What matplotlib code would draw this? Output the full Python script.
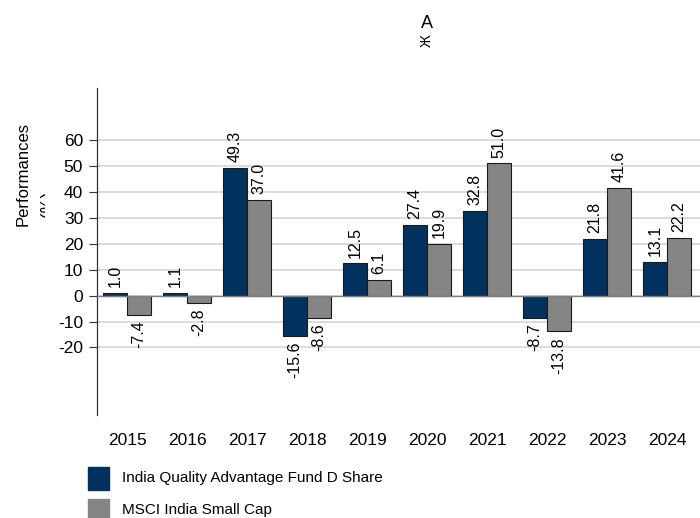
import numpy as np
import matplotlib
matplotlib.use("Agg")
import matplotlib.pyplot as plt
from matplotlib.transforms import Bbox

years = ['2015', '2016', '2017', '2018', '2019', '2020', '2021', '2022', '2023', '2024']
fund = [1.0, 1.1, 49.3, -15.6, 12.5, 27.4, 32.8, -8.7, 21.8, 13.1]
index = [-7.4, -2.8, 37.0, -8.6, 6.1, 19.9, 51.0, -13.8, 41.6, 22.2]
series_names = ['India Quality Advantage Fund D Share', 'MSCI India Small Cap']
yticks = [-20, -10, 0, 10, 20, 30, 40, 50, 60]

blue = '#00325f'
grey = '#858585'

plt.rcParams['font.family'] = ['Liberation Sans', 'DejaVu Sans']

fig = plt.figure(figsize=(7, 5.18), dpi=100)
ax = fig.add_axes([0.1386, 0.199, 0.8614, 0.631])

x = np.arange(len(years))
w = 0.4
b1 = ax.bar(x - w / 2, fund, w, color=blue, edgecolor='#1a1a1a', linewidth=0.8, zorder=3)
b2 = ax.bar(x + w / 2, index, w, color=grey, edgecolor='#1a1a1a', linewidth=0.8, zorder=3)

# valeurs au-dessus / en dessous des barres
for bars, vals in ((b1, fund), (b2, index)):
    for r, v in zip(bars, vals):
        cx = r.get_x() + r.get_width() / 2
        if v >= 0:
            ax.annotate(f'{v:.1f}', (cx, v), xytext=(0, 4), textcoords='offset points',
                        rotation=90, ha='center', va='bottom', fontsize=11.5)
        else:
            ax.annotate(f'{v:.1f}', (cx, v), xytext=(0, -4), textcoords='offset points',
                        rotation=90, ha='center', va='top', fontsize=11.5)

for t in yticks:
    ax.axhline(t, color='#d9d9d9', linewidth=1.3, zorder=1)
ax.axhline(0, color='#7f7f7f', linewidth=1.0, zorder=4)

ax.set_xlim(-0.5, 9.55)
ax.set_ylim(-46, 80)
ax.set_yticks(yticks)
ax.set_yticklabels([str(t) for t in yticks], fontsize=12.5)
ax.set_xticks(x)
ax.set_xticklabels(years, fontsize=12.5)
ax.tick_params(axis='x', length=0, pad=13)
ax.tick_params(axis='y', length=6, width=0.8, color='#333333', pad=4)
for s in ('top', 'right', 'bottom'):
    ax.spines[s].set_visible(False)
ax.spines['left'].set_color('#333333')
ax.spines['left'].set_linewidth(0.9)

fig.text(0.033, 0.664, 'Performances', rotation=90, ha='center', va='center', fontsize=12)
# second line of the label, cut off like in the original
pct = fig.text(0.068, 0.606, '(%)', rotation=90, ha='center', va='center', fontsize=12)
pct.set_clip_box(Bbox.from_extents(0, 0, 45, 518))
pct.set_clip_on(True)

fig.text(0.61, 0.955, 'A', ha='center', va='center', fontsize=13)
fig.text(0.61, 0.922, 'Ж', ha='center', va='center', fontsize=10, rotation=90)

# legend squares at the bottom
fig.patches.append(plt.Rectangle((0.126, 0.054), 0.029, 0.044, color=blue, transform=fig.transFigure))
fig.patches.append(plt.Rectangle((0.126, -0.008), 0.029, 0.044, color=grey, transform=fig.transFigure))
fig.text(0.174, 0.078, series_names[0], ha='left', va='center', fontsize=11)
fig.text(0.174, 0.016, series_names[1], ha='left', va='center', fontsize=11)

fig.savefig('out.png', dpi=100)
